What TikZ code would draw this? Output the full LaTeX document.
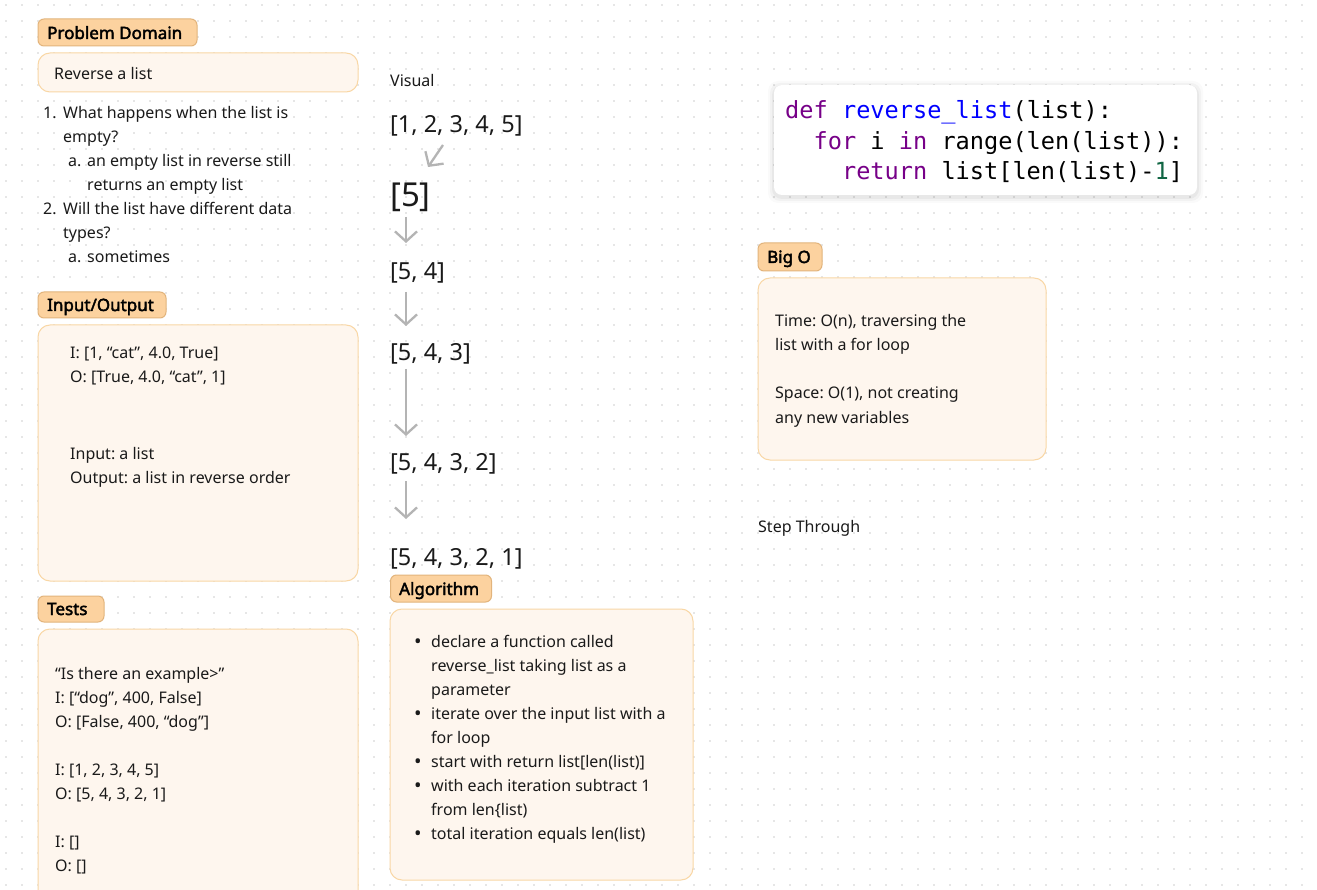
\documentclass[tikz,border=0pt]{standalone}
\usepackage{fontspec}
\setmainfont{Noto Sans}[AutoFakeBold=2.4]
\newfontfamily\codefont{DejaVu Sans Mono}
\usetikzlibrary{arrows.meta}
\frenchspacing
\definecolor{tagfill}{HTML}{FCD29F}
\definecolor{tagdraw}{HTML}{E2B47C}
\definecolor{boxfill}{HTML}{FEF6EE}
\definecolor{boxdraw}{HTML}{F9D7A5}
\definecolor{textc}{HTML}{1A1A1A}
\definecolor{dotc}{HTML}{E6E6E6}
\definecolor{arrc}{HTML}{B4B4B4}
\definecolor{kwc}{HTML}{770088}
\definecolor{fnc}{HTML}{0000FF}
\definecolor{numc}{HTML}{116644}
\newcommand\Tl[4]{\node[txt] (#1) at (#2,#3) {#4};}
\begin{document}
\begin{tikzpicture}[x=1pt,y=-1pt,
  txt/.style={anchor=base west, inner sep=0pt, text=textc, font=\fontsize{16}{18}\selectfont},
  bigtxt/.style={anchor=base west, inner sep=0pt, text=textc, font=\fontsize{23.5}{26}\selectfont},
  tagst/.style={draw=tagdraw, fill=tagfill, rounded corners=6pt, line width=1pt, inner sep=0pt},
  tagtxt/.style={anchor=base west, inner sep=0pt, text=black, font=\fontsize{17}{18}\selectfont\bfseries},
  boxst/.style={draw=boxdraw, fill=boxfill, rounded corners=12pt, line width=1pt, inner sep=0pt},
  arr/.style={draw=arrc, line width=2.3pt, -{Straight Barb[length=10pt,width=22pt]}},
  bul/.style={anchor=base west, inner sep=0pt, text=textc, font=\fontsize{20}{20}\selectfont},
  code/.style={anchor=base west, inner sep=0pt, text=black, font=\codefont\fontsize{23.6}{26}\selectfont}]
\useasboundingbox (0,0) rectangle (1317,890);
\fill[white] (0,0) rectangle (1317,890);
% dot grid
\foreach \gx in {6,22,...,1318} {
  \foreach \gy in {5,21,...,890} {
    \fill[dotc] (\gx-1,\gy-1) rectangle (\gx+1,\gy+1);
  }
}
% ---------- Problem Domain ----------
\node[tagst, minimum width=159pt, minimum height=27pt] (pdtag) at (117.5,32.5) {};
\node[tagtxt] (pdtagt) at (47,39) {Problem Domain};
\node[boxst, minimum width=320pt, minimum height=39pt] (pdbox) at (198,72.5) {};
\Tl{pd1}{54}{80}{Reverse a list}
\Tl{q1n}{43}{119}{1.}
\Tl{q1a}{63}{119}{What happens when the list is}
\Tl{q1b}{63}{143}{empty?}
\Tl{q1cn}{68}{167}{a.}
\Tl{q1c}{87}{167}{an empty list in reverse still}
\Tl{q1d}{87}{191}{returns an empty list}
\Tl{q2n}{43}{215}{2.}
\Tl{q2a}{63}{215}{Will the list have different data}
\Tl{q2b}{63}{239}{types?}
\Tl{q2cn}{68}{263}{a.}
\Tl{q2c}{87}{263}{sometimes}
% ---------- Input/Output ----------
\node[tagst, minimum width=128pt, minimum height=26pt] (iotag) at (102,305) {};
\node[tagtxt] (iotagt) at (47,311) {Input/Output};
\node[boxst, minimum width=320pt, minimum height=256pt] (iobox) at (198,453) {};
\Tl{io1}{70}{359}{I: [1, “cat”, 4.0, True]}
\Tl{io2}{70}{383}{O: [True, 4.0, “cat”, 1]}
\Tl{io3}{70}{459}{Input: a list}
\Tl{io4}{70}{483}{Output: a list in reverse order}
% ---------- Tests ----------
\node[tagst, minimum width=66pt, minimum height=26pt] (tstag) at (71,609) {};
\node[tagtxt] (tstagt) at (47,615) {Tests};
\node[boxst, minimum width=320pt, minimum height=290pt] (tsbox) at (198,774) {};
\Tl{ts1}{55}{679}{“Is there an example>”}
\Tl{ts2}{55}{703}{I: [“dog”, 400, False]}
\Tl{ts3}{55}{727}{O: [False, 400, “dog”]}
\Tl{ts4}{55}{775}{I: [1, 2, 3, 4, 5]}
\Tl{ts5}{55}{799}{O: [5, 4, 3, 2, 1]}
\Tl{ts6}{55}{847}{I: []}
\Tl{ts7}{55}{871}{O: []}
% ---------- Visual ----------
\Tl{vis}{390}{87}{Visual}
\node[bigtxt] (v1) at (390,133) {[1, 2, 3, 4, 5]};
\node[anchor=base west, inner sep=0pt, text=textc, font=\fontsize{33}{36}\selectfont] (v2) at (390,207) {[5]};
\node[bigtxt] (v3) at (390,280) {[5, 4]};
\node[bigtxt] (v4) at (390,361) {[5, 4, 3]};
\node[bigtxt] (v5) at (390,470) {[5, 4, 3, 2]};
\node[bigtxt] (v6) at (390,565) {[5, 4, 3, 2, 1]};
\coordinate (a1s) at (443,145); \coordinate (a1e) at (428,167);
\coordinate (a2s) at (406,217); \coordinate (a2e) at (406,243);
\coordinate (a3s) at (406,292); \coordinate (a3e) at (406,326);
\coordinate (a4s) at (406,369); \coordinate (a4e) at (406,436);
\coordinate (a5s) at (406,481); \coordinate (a5e) at (406,519);
\draw[arr] (a1s) -- (a1e);
\draw[arr] (a2s) -- (a2e);
\draw[arr] (a3s) -- (a3e);
\draw[arr] (a4s) -- (a4e);
\draw[arr] (a5s) -- (a5e);
% ---------- Algorithm ----------
\node[tagst, minimum width=101pt, minimum height=27pt] (altag) at (441,588.5) {};
\node[tagtxt] (altagt) at (399,595) {Algorithm};
\node[boxst, minimum width=303pt, minimum height=271pt] (albox) at (541.5,744.5) {};
\node[bul] (b1) at (414,648) {•};
\Tl{al1}{431}{647}{declare a function called}
\Tl{al2}{431}{671}{reverse\_list taking list as a}
\Tl{al3}{431}{695}{parameter}
\node[bul] (b2) at (414,720) {•};
\Tl{al4}{431}{719}{iterate over the input list with a}
\Tl{al5}{431}{743}{for loop}
\node[bul] (b3) at (414,768) {•};
\Tl{al6}{431}{767}{start with return list[len(list)]}
\node[bul] (b4) at (414,792) {•};
\Tl{al7}{431}{791}{with each iteration subtract 1}
\Tl{al8}{431}{815}{from len\{list)}
\node[bul] (b5) at (414,840) {•};
\Tl{al9}{431}{839}{total iteration equals len(list)}
% ---------- Code ----------
\foreach \s/\o in {6/0.02,4/0.03,2/0.04} {
  \fill[black, opacity=\o, rounded corners=10pt] (774-\s,87-\s) rectangle (1197+\s,197+\s);
}
\node[draw=none, fill=white, rounded corners=8pt, minimum width=423pt, minimum height=110pt, inner sep=0pt] (codebox) at (985.5,140) {};
\node[code] (c1) at (785,119) {\textcolor{kwc}{def} \textcolor{fnc}{reverse\_list}(list):};
\node[code] (c2) at (785,150) {\phantom{xx}\textcolor{kwc}{for} i \textcolor{kwc}{in} range(len(list)):};
\node[code] (c3) at (785,180) {\phantom{xxxx}\textcolor{kwc}{return} list[len(list)-\textcolor{numc}{1}]};
% ---------- Big O ----------
\node[tagst, minimum width=64pt, minimum height=28pt] (botag) at (790,257) {};
\node[tagtxt] (botagt) at (767,263) {Big O};
\node[boxst, minimum width=288pt, minimum height=182pt] (bobox) at (902,369) {};
\Tl{bo1}{775}{327}{Time: O(n), traversing the}
\Tl{bo2}{775}{351}{list with a for loop}
\Tl{bo3}{775}{399}{Space: O(1), not creating}
\Tl{bo4}{775}{423}{any new variables}
\Tl{step}{758}{532}{Step Through}
\end{tikzpicture}
\end{document}
